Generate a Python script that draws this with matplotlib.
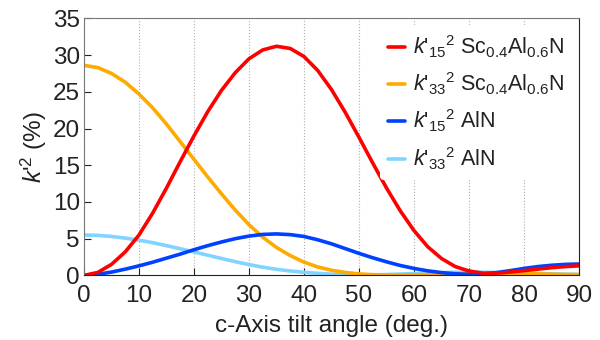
import numpy as np
import matplotlib
matplotlib.use("Agg")
import matplotlib.pyplot as plt

plt.rcParams['font.family'] = ['Liberation Sans', 'DejaVu Sans']
plt.rcParams['mathtext.fontset'] = 'custom'
plt.rcParams['mathtext.rm'] = 'Liberation Sans'
plt.rcParams['mathtext.it'] = 'Liberation Sans:italic'
plt.rcParams['mathtext.bf'] = 'Liberation Sans:bold'

# tilt angle (deg.)
angle = np.arange(0, 90.1, 2.5)

# k'^2 values (%)
k15_scaln = [0.0, 0.4, 1.5, 3.2, 5.5, 8.5, 11.9, 15.5, 19.0, 22.3, 25.2, 27.6,
             29.5, 30.7, 31.2, 30.9, 29.8, 27.9, 25.3, 22.2, 18.8, 15.3, 11.9,
             8.8, 6.1, 3.9, 2.3, 1.2, 0.6, 0.3, 0.3, 0.45, 0.65, 0.85, 1.05, 1.2, 1.3]
k33_scaln = [28.6, 28.3, 27.5, 26.3, 24.7, 22.8, 20.6, 18.2, 15.8, 13.4, 11.1, 8.9,
             6.9, 5.2, 3.8, 2.7, 1.8, 1.15, 0.7, 0.4, 0.2, 0.1, 0.05, 0.05, 0.08,
             0.12, 0.17, 0.22, 0.26, 0.28, 0.28, 0.27, 0.24, 0.2, 0.16, 0.12, 0.1]
k15_aln = [0.0, 0.15, 0.45, 0.85, 1.3, 1.8, 2.35, 2.9, 3.5, 4.05, 4.55, 5.0, 5.35,
           5.58, 5.65, 5.55, 5.3, 4.85, 4.3, 3.65, 3.0, 2.4, 1.85, 1.35, 0.95, 0.62,
           0.38, 0.22, 0.15, 0.2, 0.38, 0.65, 0.95, 1.2, 1.38, 1.5, 1.55]
k33_aln = [5.5, 5.45, 5.3, 5.08, 4.8, 4.45, 4.05, 3.63, 3.2, 2.75, 2.3, 1.87, 1.47,
           1.12, 0.83, 0.6, 0.42, 0.28, 0.17, 0.1, 0.07, 0.08, 0.12, 0.18, 0.25,
           0.32, 0.38, 0.42, 0.44, 0.43, 0.4, 0.36, 0.31, 0.26, 0.21, 0.17, 0.14]

labels = [r"$k$'$_{15}$$^{2}$ Sc$_{0.4}$Al$_{0.6}$N",
          r"$k$'$_{33}$$^{2}$ Sc$_{0.4}$Al$_{0.6}$N",
          r"$k$'$_{15}$$^{2}$ AlN",
          r"$k$'$_{33}$$^{2}$ AlN"]

fig = plt.figure(figsize=(6, 3.4), dpi=100)
ax = fig.add_axes([0.14, 0.19, 0.825, 0.756])

lw = 2.6
kw = dict(lw=lw, solid_joinstyle='round', solid_capstyle='round')
l4, = ax.plot(angle, k33_aln, color='#80d4ff', **kw)
l2, = ax.plot(angle, k33_scaln, color='#ffaa00', **kw)
l3, = ax.plot(angle, k15_aln, color='#0040ff', **kw)
l1, = ax.plot(angle, k15_scaln, color='#ff0000', **kw)

ax.set_xlim(0, 90)
ax.set_ylim(0, 35)
ax.set_xticks(range(0, 91, 10))
ax.set_yticks(range(0, 36, 5))
ax.grid(axis='x', linestyle=':', color='#b0b0b0', lw=0.8)
ax.tick_params(direction='in', length=5, labelsize=17.5, colors='#222222', pad=3)
ax.tick_params(axis='x', pad=7)

ax.spines['left'].set_color('#777777')
ax.spines['top'].set_color('#777777')
ax.spines['bottom'].set_color('#222222')
ax.spines['right'].set_color('#222222')

ax.set_xlabel('c-Axis tilt angle (deg.)', fontsize=17.5, color='#222222', labelpad=6)
ax.set_ylabel(r"$k$'$^{2}$ (%)", fontsize=17.5, color='#222222', labelpad=3)

leg = ax.legend([l1, l2, l3, l4], labels, loc='upper right', fontsize=15.5,
                alignment='right', handlelength=0.8, handletextpad=0.35,
                labelspacing=0.5, frameon=True, facecolor='white',
                edgecolor='none', framealpha=1, borderaxespad=0.3)
for t in leg.get_texts():
    t.set_color('#222222')

fig.savefig('out.png', dpi=100)
